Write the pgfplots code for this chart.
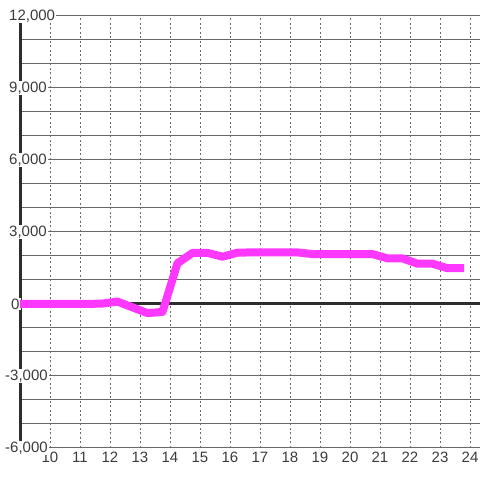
\documentclass[border=0pt]{standalone}
\usepackage{pgfplots}
\pgfplotsset{compat=1.18}
\usepackage{fontspec}
\setmainfont{Liberation Sans}
\definecolor{mag}{RGB}{255,56,255}
\definecolor{txt}{RGB}{60,60,60}
\definecolor{grd}{RGB}{105,105,105}
\definecolor{axl}{RGB}{45,45,45}
\pgfplotsset{layers/mylayers/.define layer set={axis background,axis grid,axis ticks,axis lines,pre main,main,axis tick labels,axis descriptions,axis foreground}{}}
\setlength{\fboxsep}{1pt}
\newcommand{\wb}[1]{\colorbox{white}{#1}}
\begin{document}
\begin{tikzpicture}[x=1pt,y=1pt]
\begin{axis}[
  set layers=mylayers,
  at={(20pt,32pt)}, anchor=south west,
  width=460pt, height=432pt, scale only axis,
  xmin=9, xmax=24.3333, ymin=-6000, ymax=12000,
  clip=false,
  axis x line*=bottom, axis y line*=left,
  x axis line style={draw=none},
  y axis line style={axl, line width=3pt, -},
  xtick={10,11,12,13,14,15,16,17,18,19,20,21,22,23,24},
  xticklabels={10,11,12,13,14,15,16,17,18,19,20,21,22,23,24},
  ytick={-6000,-3000,0,3000,6000,9000,12000},
  yticklabels={{\kern-4pt\wb{-6,000}},{\kern-4pt\wb{-3,000}},{\kern2pt\wb{0}},{\wb{3,000}},{\wb{6,000}},{\wb{9,000}},{\wb{12,000}}},
  scaled y ticks=false, scaled x ticks=false,
  minor ytick={-5000,-4000,-2000,-1000,1000,2000,4000,5000,7000,8000,10000,11000},
  major tick length=0pt, minor tick length=0pt,
  tick style={draw=none},
  xmajorgrids, ymajorgrids, yminorgrids,
  x grid style={grd, line width=1pt, dash pattern=on 2pt off 2.5pt},
  y grid style={grd, line width=1pt},
  tick label style={font=\fontsize{15}{15}\selectfont, text=txt},
  yticklabel style={anchor=west, xshift=-12pt, inner sep=0pt},
  xticklabel style={anchor=north, yshift=-3pt, inner sep=1pt},
]
\addplot[axl, line width=3pt, forget plot] coordinates {(9,0) (24.3333,0)};
\addplot[mag, line width=8pt, line join=round] coordinates {
(9,0) (11.25,0) (11.75,20) (12.25,100) (13.25,-380) (13.75,-330)
(14.25,1700) (14.75,2130) (15.25,2130) (15.75,1970) (16.25,2140)
(16.75,2150) (17.25,2150) (17.75,2150) (18.25,2150) (18.75,2080)
(19.25,2080) (19.75,2080) (20.25,2080) (20.75,2080) (21.25,1900)
(21.75,1900) (22.25,1680) (22.75,1680) (23.25,1490) (23.8,1490)
};
\end{axis}
\pgfresetboundingbox
\useasboundingbox (0,0) rectangle (480,480);
\end{tikzpicture}
\end{document}
